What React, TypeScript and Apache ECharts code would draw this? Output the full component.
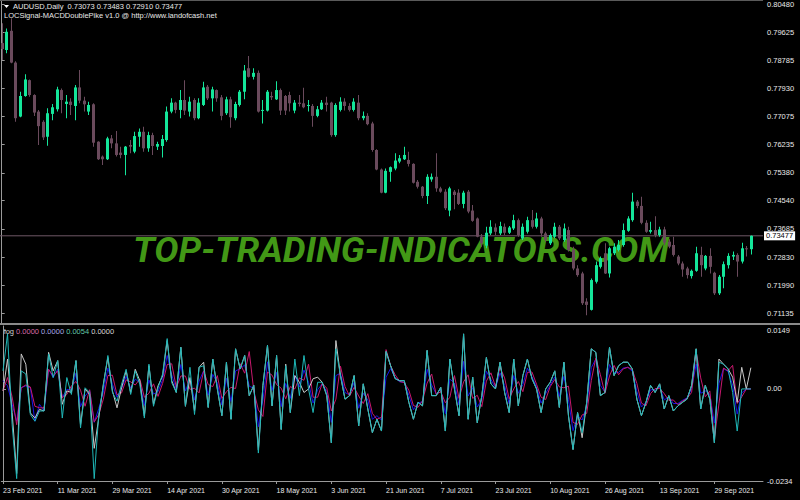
import React, { useEffect, useRef } from "react";
import * as echarts from "echarts";

// ---- data ----
const symbolTitle = "AUDUSD,Daily";
const headerValues = ["0.73073", "0.73483", "0.72910", "0.73477"];
const indicatorTitle = "LOCSignal-MACDDoublePike v1.0 @ http://www.landofcash.net";
const lastPrice = 0.73477;

const dateLabels = ["23 Feb 2021", "11 Mar 2021", "29 Mar 2021", "14 Apr 2021", "30 Apr 2021", "18 May 2021", "3 Jun 2021", "21 Jun 2021", "7 Jul 2021", "23 Jul 2021", "10 Aug 2021", "26 Aug 2021", "13 Sep 2021", "29 Sep 2021"];
const dateLabelBars = [0, 12, 24, 36, 48, 60, 72, 84, 96, 108, 120, 132, 144, 156];

const priceTicks = [0.80480, 0.79625, 0.78785, 0.77930, 0.77075, 0.76235, 0.75380, 0.74540, 0.73685, 0.72830, 0.71990, 0.71135];
const indicatorTicks = [0.0149, 0, -0.0234];

const legendLabel = "log";
const legendValues = ["0.0000", "0.0000", "0.0054", "0.0000"];

// daily candles: [open, close, low, high]
const candles = [
  [0.7930, 0.7912, 0.7879, 0.7990], [0.7909, 0.7964, 0.7899, 0.7974], [0.7967, 0.7871, 0.7869, 0.8005], [0.7871, 0.7703, 0.7692, 0.7875], [0.7708, 0.7770, 0.7706, 0.7783],
  [0.7770, 0.7820, 0.7768, 0.7836], [0.7818, 0.7773, 0.7768, 0.7820], [0.7773, 0.7720, 0.7710, 0.7775], [0.7723, 0.7679, 0.7622, 0.7728], [0.7692, 0.7645, 0.7637, 0.7697],
  [0.7647, 0.7718, 0.7620, 0.7733], [0.7716, 0.7736, 0.7697, 0.7746], [0.7730, 0.7790, 0.7723, 0.7798], [0.7788, 0.7758, 0.7718, 0.7793], [0.7746, 0.7753, 0.7703, 0.7773],
  [0.7753, 0.7743, 0.7713, 0.7763], [0.7740, 0.7796, 0.7697, 0.7803], [0.7796, 0.7756, 0.7748, 0.7849], [0.7756, 0.7745, 0.7723, 0.7768], [0.7723, 0.7743, 0.7713, 0.7753],
  [0.7745, 0.7629, 0.7617, 0.7748], [0.7632, 0.7579, 0.7577, 0.7633], [0.7587, 0.7579, 0.7562, 0.7590], [0.7579, 0.7642, 0.7577, 0.7647], [0.7642, 0.7627, 0.7612, 0.7652],
  [0.7627, 0.7592, 0.7587, 0.7664], [0.7599, 0.7592, 0.7582, 0.7617], [0.7592, 0.7617, 0.7531, 0.7619], [0.7622, 0.7617, 0.7597, 0.7637], [0.7602, 0.7649, 0.7597, 0.7662],
  [0.7647, 0.7662, 0.7617, 0.7672], [0.7662, 0.7612, 0.7602, 0.7677], [0.7612, 0.7652, 0.7602, 0.7662], [0.7652, 0.7619, 0.7592, 0.7659], [0.7617, 0.7625, 0.7607, 0.7632],
  [0.7619, 0.7640, 0.7584, 0.7652], [0.7637, 0.7723, 0.7632, 0.7738], [0.7723, 0.7750, 0.7718, 0.7763], [0.7750, 0.7728, 0.7718, 0.7753], [0.7728, 0.7758, 0.7703, 0.7788],
  [0.7758, 0.7726, 0.7713, 0.7818], [0.7723, 0.7753, 0.7708, 0.7768], [0.7758, 0.7703, 0.7697, 0.7763], [0.7703, 0.7750, 0.7700, 0.7763], [0.7743, 0.7796, 0.7740, 0.7813],
  [0.7798, 0.7763, 0.7758, 0.7803], [0.7763, 0.7790, 0.7723, 0.7798], [0.7788, 0.7763, 0.7753, 0.7790], [0.7766, 0.7710, 0.7697, 0.7773], [0.7718, 0.7760, 0.7713, 0.7768],
  [0.7760, 0.7706, 0.7674, 0.7768], [0.7703, 0.7746, 0.7697, 0.7753], [0.7743, 0.7783, 0.7738, 0.7788], [0.7783, 0.7847, 0.7760, 0.7864], [0.7854, 0.7828, 0.7826, 0.7891],
  [0.7828, 0.7840, 0.7820, 0.7854], [0.7840, 0.7723, 0.7720, 0.7847], [0.7725, 0.7728, 0.7687, 0.7758], [0.7726, 0.7783, 0.7723, 0.7788], [0.7770, 0.7766, 0.7758, 0.7783],
  [0.7760, 0.7788, 0.7758, 0.7815], [0.7788, 0.7726, 0.7713, 0.7793], [0.7770, 0.7726, 0.7713, 0.7773], [0.7773, 0.7748, 0.7723, 0.7783], [0.7726, 0.7750, 0.7718, 0.7758],
  [0.7750, 0.7746, 0.7738, 0.7773], [0.7748, 0.7736, 0.7733, 0.7795], [0.7740, 0.7743, 0.7723, 0.7758], [0.7740, 0.7710, 0.7677, 0.7746], [0.7710, 0.7730, 0.7706, 0.7740],
  [0.7730, 0.7750, 0.7728, 0.7758], [0.7750, 0.7743, 0.7723, 0.7768], [0.7750, 0.7652, 0.7647, 0.7753], [0.7652, 0.7743, 0.7647, 0.7748], [0.7728, 0.7753, 0.7723, 0.7766],
  [0.7753, 0.7740, 0.7726, 0.7763], [0.7740, 0.7728, 0.7723, 0.7748], [0.7728, 0.7753, 0.7723, 0.7763], [0.7750, 0.7703, 0.7697, 0.7773], [0.7703, 0.7710, 0.7697, 0.7723],
  [0.7710, 0.7685, 0.7682, 0.7718], [0.7687, 0.7607, 0.7602, 0.7692], [0.7607, 0.7548, 0.7546, 0.7609], [0.7548, 0.7478, 0.7476, 0.7551], [0.7478, 0.7544, 0.7476, 0.7551],
  [0.7541, 0.7555, 0.7511, 0.7557], [0.7551, 0.7575, 0.7546, 0.7597], [0.7572, 0.7582, 0.7567, 0.7592], [0.7579, 0.7592, 0.7577, 0.7617], [0.7577, 0.7565, 0.7557, 0.7602],
  [0.7565, 0.7508, 0.7506, 0.7567], [0.7511, 0.7496, 0.7491, 0.7516], [0.7496, 0.7468, 0.7461, 0.7498], [0.7468, 0.7526, 0.7444, 0.7534], [0.7518, 0.7526, 0.7511, 0.7536],
  [0.7526, 0.7491, 0.7481, 0.7597], [0.7491, 0.7481, 0.7478, 0.7496], [0.7481, 0.7431, 0.7426, 0.7488], [0.7424, 0.7491, 0.7407, 0.7496], [0.7481, 0.7471, 0.7428, 0.7486],
  [0.7478, 0.7444, 0.7441, 0.7488], [0.7444, 0.7478, 0.7431, 0.7484], [0.7481, 0.7421, 0.7416, 0.7486], [0.7424, 0.7393, 0.7390, 0.7441], [0.7400, 0.7345, 0.7343, 0.7403],
  [0.7345, 0.7325, 0.7315, 0.7353], [0.7318, 0.7357, 0.7310, 0.7375], [0.7355, 0.7375, 0.7350, 0.7395], [0.7373, 0.7360, 0.7350, 0.7385], [0.7355, 0.7377, 0.7350, 0.7390],
  [0.7375, 0.7357, 0.7350, 0.7385], [0.7357, 0.7373, 0.7353, 0.7377], [0.7370, 0.7395, 0.7365, 0.7411], [0.7395, 0.7350, 0.7345, 0.7400], [0.7340, 0.7375, 0.7335, 0.7385],
  [0.7360, 0.7395, 0.7355, 0.7405], [0.7395, 0.7375, 0.7370, 0.7426], [0.7375, 0.7400, 0.7370, 0.7417], [0.7400, 0.7355, 0.7345, 0.7405], [0.7355, 0.7335, 0.7330, 0.7360],
  [0.7325, 0.7350, 0.7320, 0.7355], [0.7345, 0.7375, 0.7340, 0.7387], [0.7375, 0.7340, 0.7335, 0.7380], [0.7335, 0.7370, 0.7330, 0.7385], [0.7365, 0.7305, 0.7300, 0.7375],
  [0.7305, 0.7249, 0.7244, 0.7315], [0.7249, 0.7229, 0.7224, 0.7259], [0.7234, 0.7144, 0.7139, 0.7239], [0.7149, 0.7139, 0.7108, 0.7159], [0.7124, 0.7214, 0.7122, 0.7219],
  [0.7209, 0.7259, 0.7204, 0.7270], [0.7254, 0.7280, 0.7249, 0.7285], [0.7295, 0.7234, 0.7232, 0.7325], [0.7234, 0.7310, 0.7222, 0.7315], [0.7295, 0.7315, 0.7290, 0.7325],
  [0.7305, 0.7320, 0.7300, 0.7335], [0.7320, 0.7365, 0.7315, 0.7385], [0.7363, 0.7400, 0.7360, 0.7407], [0.7395, 0.7451, 0.7390, 0.7478], [0.7451, 0.7438, 0.7431, 0.7456],
  [0.7438, 0.7387, 0.7383, 0.7466], [0.7387, 0.7360, 0.7357, 0.7395], [0.7360, 0.7365, 0.7355, 0.7390], [0.7365, 0.7350, 0.7343, 0.7407], [0.7350, 0.7367, 0.7345, 0.7375],
  [0.7367, 0.7327, 0.7320, 0.7375], [0.7330, 0.7315, 0.7310, 0.7337], [0.7320, 0.7290, 0.7285, 0.7345], [0.7285, 0.7264, 0.7259, 0.7290], [0.7264, 0.7246, 0.7224, 0.7270],
  [0.7249, 0.7229, 0.7219, 0.7254], [0.7226, 0.7242, 0.7219, 0.7246], [0.7242, 0.7295, 0.7239, 0.7315], [0.7290, 0.7259, 0.7224, 0.7315], [0.7249, 0.7287, 0.7244, 0.7290],
  [0.7287, 0.7254, 0.7234, 0.7310], [0.7236, 0.7174, 0.7169, 0.7239], [0.7174, 0.7224, 0.7169, 0.7229], [0.7224, 0.7262, 0.7189, 0.7270], [0.7259, 0.7287, 0.7249, 0.7295],
  [0.7285, 0.7290, 0.7275, 0.7300], [0.7290, 0.7270, 0.7224, 0.7295], [0.7270, 0.7310, 0.7264, 0.7327], [0.7310, 0.7307, 0.7285, 0.7317], [0.73073, 0.73477, 0.72910, 0.73483],
];

// indicator sub-window lines
const cyanLine = [
  0.0046, 0.0140, -0.0090, -0.0228, 0.0046, 0.0038, -0.0065, -0.0082, -0.0056, -0.0056,
  0.0089, 0.0029, 0.0072, -0.0074, 0.0029, -0.0014, 0.0072, -0.0099, 0.0003, -0.0009,
  -0.0228, -0.0065, 0.0008, 0.0085, -0.0009, -0.0031, 0.0012, 0.0050, -0.0014, 0.0046,
  0.0012, -0.0074, 0.0063, -0.0044, 0.0003, 0.0038, 0.0128, 0.0016, -0.0009, 0.0106,
  -0.0044, 0.0055, -0.0065, 0.0055, 0.0059, -0.0047, 0.0076, 0.0000, -0.0068, 0.0068,
  -0.0077, 0.0102, 0.0051, 0.0085, -0.0017, 0.0009, -0.0163, 0.0009, 0.0111, -0.0043,
  0.0085, -0.0103, 0.0059, -0.0060, 0.0076, -0.0017, 0.0085, 0.0000, -0.0060, 0.0017,
  0.0017, -0.0017, -0.0137, 0.0102, 0.0034, -0.0026, -0.0017, 0.0034, -0.0094, 0.0013,
  -0.0051, -0.0111, -0.0077, -0.0107, 0.0095, 0.0059, 0.0026, 0.0021, 0.0021, -0.0034,
  -0.0077, -0.0034, -0.0043, 0.0098, -0.0017, -0.0017, 0.0004, -0.0107, 0.0076, 0.0000,
  -0.0068, 0.0140, -0.0077, 0.0030, -0.0086, -0.0017, 0.0080, 0.0013, 0.0000, 0.0068,
  -0.0009, -0.0060, 0.0076, -0.0043, 0.0034, 0.0076, 0.0026, 0.0000, -0.0060, 0.0000,
  0.0017, 0.0046, -0.0047, 0.0068, -0.0068, -0.0154, -0.0060, -0.0111, -0.0034, 0.0102,
  0.0093, -0.0017, -0.0009, 0.0106, 0.0034, 0.0059, 0.0068, 0.0068, 0.0051, -0.0026,
  -0.0068, -0.0034, 0.0009, -0.0009, 0.0013, -0.0051, -0.0017, -0.0056, -0.0043, -0.0034,
  -0.0026, 0.0009, 0.0102, -0.0051, 0.0009, -0.0026, -0.0137, 0.0068, 0.0063, 0.0051,
  -0.0009, -0.0107, 0.0000, 0.0000, 0.0000,
];
const whiteLine = [
  -0.0005, 0.0076, -0.0060, -0.0215, 0.0089, 0.0063, -0.0061, -0.0074, -0.0052, -0.0056,
  0.0093, 0.0046, 0.0072, -0.0039, -0.0005, -0.0009, 0.0072, -0.0091, 0.0000, -0.0014,
  -0.0151, -0.0074, 0.0012, 0.0080, -0.0005, -0.0048, 0.0003, 0.0046, -0.0009, 0.0050,
  0.0021, -0.0069, 0.0059, -0.0039, 0.0008, 0.0033, 0.0123, 0.0021, -0.0009, 0.0106,
  -0.0044, 0.0029, -0.0056, 0.0055, 0.0068, -0.0047, 0.0076, 0.0000, -0.0068, 0.0068,
  -0.0077, 0.0102, 0.0051, 0.0085, -0.0017, 0.0009, -0.0155, 0.0009, 0.0111, -0.0043,
  0.0085, -0.0103, 0.0063, -0.0060, 0.0034, 0.0017, -0.0009, 0.0000, 0.0026, 0.0030,
  0.0017, -0.0017, -0.0137, 0.0123, 0.0034, -0.0026, -0.0017, 0.0034, -0.0094, 0.0013,
  -0.0051, -0.0111, -0.0077, -0.0107, 0.0095, 0.0059, 0.0026, 0.0021, 0.0021, -0.0034,
  -0.0077, -0.0034, -0.0043, 0.0098, -0.0017, -0.0017, 0.0004, -0.0107, 0.0076, 0.0000,
  -0.0068, 0.0140, -0.0077, 0.0030, -0.0086, -0.0017, 0.0080, 0.0013, 0.0000, 0.0068,
  -0.0009, -0.0060, 0.0076, -0.0043, 0.0034, 0.0076, 0.0026, 0.0000, -0.0060, 0.0000,
  0.0017, 0.0046, -0.0047, 0.0068, -0.0068, -0.0154, -0.0060, -0.0124, -0.0034, 0.0102,
  0.0093, -0.0017, -0.0009, 0.0106, 0.0034, 0.0059, 0.0068, 0.0068, 0.0051, -0.0026,
  -0.0068, -0.0034, 0.0009, -0.0009, 0.0013, -0.0051, -0.0017, -0.0056, -0.0043, -0.0034,
  -0.0026, 0.0009, 0.0102, -0.0051, 0.0009, -0.0026, -0.0137, 0.0076, 0.0063, 0.0051,
  0.0030, -0.0034, 0.0055, 0.0000, 0.0054,
];
const blueLine = [
  0.0021, 0.0008, -0.0039, -0.0082, 0.0003, 0.0008, 0.0003, -0.0082, -0.0039, -0.0056,
  0.0050, 0.0029, 0.0050, -0.0022, -0.0001, -0.0003, 0.0040, -0.0045, -0.0018, -0.0004,
  -0.0085, -0.0050, -0.0008, 0.0053, 0.0012, -0.0021, 0.0001, 0.0032, 0.0002, 0.0025,
  0.0016, -0.0042, 0.0023, -0.0013, -0.0007, 0.0024, 0.0085, 0.0036, -0.0002, 0.0062,
  -0.0005, 0.0024, -0.0028, 0.0020, 0.0046, -0.0016, 0.0037, 0.0015, -0.0041, 0.0027,
  -0.0032, 0.0046, 0.0051, 0.0061, 0.0007, 0.0002, -0.0096, -0.0028, 0.0069, -0.0004,
  0.0042, -0.0045, 0.0014, -0.0024, 0.0034, 0.0005, 0.0048, 0.0017, -0.0036, -0.0002,
  0.0013, -0.0007, -0.0085, 0.0034, 0.0040, -0.0009, -0.0015, 0.0017, -0.0049, -0.0011,
  -0.0028, -0.0077, -0.0068, -0.0079, 0.0030, 0.0052, 0.0028, 0.0018, 0.0017, -0.0016,
  -0.0053, -0.0035, -0.0033, 0.0050, 0.0010, -0.0013, -0.0001, -0.0063, 0.0025, 0.0015,
  -0.0041, 0.0070, -0.0018, 0.0003, -0.0046, -0.0027, 0.0045, 0.0024, 0.0003, 0.0041,
  0.0009, -0.0038, 0.0034, -0.0011, 0.0011, 0.0053, 0.0031, 0.0005, -0.0036, -0.0012,
  0.0010, 0.0031, -0.0019, 0.0032, -0.0027, -0.0106, -0.0067, -0.0079, -0.0042, 0.0054,
  0.0076, 0.0009, -0.0008, 0.0062, 0.0041, 0.0042, 0.0053, 0.0055, 0.0045, -0.0006,
  -0.0046, -0.0034, -0.0002, -0.0003, 0.0006, -0.0028, -0.0020, -0.0037, -0.0037, -0.0029,
  -0.0023, 0.0000, 0.0063, -0.0011, -0.0005, -0.0014, -0.0087, 0.0014, 0.0052, 0.0044,
  0.0010, -0.0064, -0.0010, 0.0000, 0.0000,
];
const magentaLine = [
  -0.0005, 0.0029, -0.0020, -0.0091, 0.0003, 0.0010, 0.0005, -0.0044, -0.0048, -0.0048,
  0.0050, 0.0033, 0.0046, -0.0022, -0.0014, 0.0008, 0.0019, -0.0003, -0.0044, -0.0002,
  -0.0084, -0.0065, -0.0026, 0.0034, 0.0035, -0.0015, -0.0010, 0.0023, 0.0018, 0.0010,
  0.0025, -0.0021, -0.0011, 0.0013, -0.0019, 0.0014, 0.0062, 0.0064, 0.0004, 0.0033,
  0.0033, -0.0001, 0.0002, -0.0010, 0.0046, 0.0011, 0.0006, 0.0034, -0.0024, -0.0007,
  0.0004, 0.0001, 0.0064, 0.0040, 0.0095, -0.0005, -0.0053, -0.0070, 0.0043, 0.0035,
  0.0011, 0.0002, -0.0025, 0.0006, 0.0000, 0.0028, 0.0022, 0.0063, -0.0021, -0.0021,
  0.0014, 0.0002, -0.0056, -0.0026, 0.0058, 0.0006, -0.0018, 0.0004, -0.0018, -0.0037,
  -0.0012, -0.0062, -0.0077, -0.0072, 0.0100, 0.0059, 0.0036, 0.0019, 0.0016, -0.0003,
  -0.0042, -0.0047, -0.0030, 0.0015, 0.0038, -0.0014, -0.0007, -0.0035, -0.0021, 0.0034,
  -0.0024, 0.0018, 0.0036, -0.0024, -0.0016, -0.0045, 0.0020, 0.0041, 0.0006, 0.0055,
  0.0028, -0.0025, 0.0000, 0.0019, -0.0007, 0.0042, 0.0043, 0.0012, -0.0021, -0.0027,
  0.0006, 0.0024, 0.0005, 0.0003, 0.0007, -0.0085, -0.0090, -0.0066, -0.0062, 0.0021,
  0.0079, 0.0036, -0.0011, 0.0033, 0.0060, 0.0036, 0.0051, 0.0055, 0.0049, 0.0014,
  -0.0036, -0.0043, -0.0012, 0.0001, 0.0001, -0.0012, -0.0029, -0.0028, -0.0040, -0.0031,
  -0.0024, -0.0009, 0.0095, 0.0028, -0.0020, -0.0005, -0.0125, -0.0038, 0.0053, 0.0046,
  0.0060, -0.0037, -0.0020, 0.0000, 0.0000,
];

const GREEN = "#14e69a";
const PURPLE = "#6a4a5c";
const TEXT = "#e8e8e8";
const FRAME = "#9a9a9a";
const FONT = "Liberation Sans";

export default function App() {
  const ref = useRef<HTMLDivElement>(null);

  useEffect(() => {
    if (!ref.current) return;
    const chart = echarts.init(ref.current, null, { renderer: "svg" });

    const X_MIN = -0.372;
    const X_MAX = 166.66;

    const candleData = candles.map((d, i) => [i, d[0], d[1], d[2], d[3]]);
    const toXY = (arr: number[]) => arr.map((v, i) => [i, v]);

    const lineSeries = (name: string, data: number[], color: string) => ({
      name,
      type: "line",
      xAxisIndex: 1,
      yAxisIndex: 1,
      data: toXY(data),
      symbol: "none",
      showSymbol: false,
      lineStyle: { color, width: 1 },
      silent: true,
    });

    const option: any = {
      animation: false,
      backgroundColor: "#000000",
      grid: [
        { left: 0, top: 0, width: 763, height: 323 },
        { left: 0, top: 326, width: 763, height: 155 },
      ],
      xAxis: [
        {
          type: "value", gridIndex: 0, min: X_MIN, max: X_MAX,
          axisLine: { show: false }, axisTick: { show: false }, axisLabel: { show: false }, splitLine: { show: false },
        },
        {
          type: "value", gridIndex: 1, min: X_MIN, max: X_MAX,
          axisLine: { show: true, onZero: false, lineStyle: { color: FRAME, width: 1 } },
          axisTick: { show: true, customValues: dateLabelBars, length: 3, lineStyle: { color: FRAME } },
          axisLabel: {
            show: true,
            customValues: dateLabelBars,
            formatter: (v: number) => {
              const k = dateLabelBars.indexOf(Math.round(v));
              return k >= 0 ? dateLabels[k] : "";
            },
            align: "left",
            color: TEXT,
            fontSize: 7,
            fontFamily: FONT,
            margin: 6,
          },
          splitLine: { show: false },
        },
      ],
      yAxis: [
        {
          type: "value", gridIndex: 0, position: "right", min: 0.70843, max: 0.80601, scale: true,
          axisLine: { show: true, lineStyle: { color: FRAME } },
          axisTick: { show: true, customValues: priceTicks, length: 3, lineStyle: { color: FRAME } },
          axisLabel: {
            show: true, customValues: priceTicks, formatter: (v: number) => v.toFixed(5),
            color: TEXT, fontSize: 7.5, fontFamily: FONT, margin: 4,
          },
          splitLine: { show: false },
        },
        {
          type: "value", gridIndex: 1, position: "right", min: -0.0234, max: 0.016, scale: true,
          axisLine: { show: true, lineStyle: { color: FRAME } },
          axisTick: { show: true, customValues: indicatorTicks, length: 3, lineStyle: { color: FRAME } },
          axisLabel: {
            show: true, customValues: indicatorTicks,
            formatter: (v: number) => (Math.abs(v) < 1e-9 ? "0.00" : v.toFixed(4)),
            color: TEXT, fontSize: 7.5, fontFamily: FONT, margin: 4,
          },
          splitLine: { show: false },
        },
      ],
      series: [
        {
          name: "lastPrice",
          type: "line",
          xAxisIndex: 0,
          yAxisIndex: 0,
          data: [[X_MIN, lastPrice], [X_MAX, lastPrice]],
          symbol: "none",
          showSymbol: false,
          silent: true,
          z: 1,
          clip: false,
          lineStyle: { color: "#6e5866", width: 1 },
          endLabel: {
            show: true,
            distance: 1,
            formatter: () => lastPrice.toFixed(5),
            backgroundColor: "#ffffff",
            color: "#000000",
            fontSize: 7.5,
            fontFamily: FONT,
            lineHeight: 9,
            padding: [0, 2, 0, 2],
          },
        },
        {
          name: "candles",
          type: "custom",
          xAxisIndex: 0,
          yAxisIndex: 0,
          data: candleData,
          encode: { x: 0, y: [1, 2, 3, 4] },
          z: 3,
          renderItem: (params: any, api: any) => {
            const i = api.value(0);
            const o = api.value(1);
            const c = api.value(2);
            const l = api.value(3);
            const h = api.value(4);
            const pO = api.coord([i, o]);
            const pC = api.coord([i, c]);
            const pL = api.coord([i, l]);
            const pH = api.coord([i, h]);
            const x = Math.round(pO[0]);
            const color = c >= o ? GREEN : PURPLE;
            const top = Math.min(pO[1], pC[1]);
            const bh = Math.max(1, Math.abs(pO[1] - pC[1]));
            return {
              type: "group",
              children: [
                { type: "rect", shape: { x: x, y: pH[1], width: 1, height: Math.max(1, pL[1] - pH[1]) }, style: { fill: color } },
                { type: "rect", shape: { x: x - 1, y: top, width: 3, height: bh }, style: { fill: color } },
              ],
            };
          },
        },
        lineSeries("blue", blueLine, "#1414e6"),
        lineSeries("magenta", magentaLine, "#c8186e"),
        lineSeries("white", whiteLine, "#c8c8c8"),
        lineSeries("cyan", cyanLine, "#1fb8b8"),
      ],
      graphic: [
        {
          type: "text", x: 133, y: 250, z: 0, silent: true, scaleX: 1.035,
          style: {
            text: "TOP-TRADING-INDICATORS.COM",
            font: 'italic bold 35px Roboto',
            fill: "#47a318",
            verticalAlign: "middle",
            opacity: 0.95,
          },
        },
        { type: "line", z: 10, silent: true, shape: { x1: 0, y1: 0.5, x2: 763, y2: 0.5 }, style: { stroke: "#5a5a5a", lineWidth: 1 } },
        { type: "rect", z: 10, silent: true, shape: { x: 0, y: 323, width: 800, height: 2 }, style: { fill: "#8a8a8a" } },
        { type: "polygon", z: 10, silent: true, shape: { points: [[4, 5], [9, 5], [6.5, 8]] }, style: { fill: "#ffffff" } },
        {
          type: "text", x: 13, y: 6.5, z: 10, silent: true,
          style: {
            text: symbolTitle + "  " + headerValues.join(" "),
            font: `7.5px "${FONT}"`, fill: TEXT, verticalAlign: "middle",
          },
        },
        {
          type: "text", x: 4, y: 15.5, z: 10, silent: true,
          style: { text: indicatorTitle, font: `7.5px "${FONT}"`, fill: TEXT, verticalAlign: "middle" },
        },
        {
          type: "text", x: 4, y: 331, z: 10, silent: true,
          style: {
            text: `{a|${legendLabel}} {m|${legendValues[0]}} {b|${legendValues[1]}} {w|${legendValues[2]}} {c|${legendValues[3]}}`,
            font: `7.5px "${FONT}"`,
            verticalAlign: "middle",
            rich: {
              a: { fill: "#d0d0d0", fontSize: 7.5, fontFamily: FONT },
              m: { fill: "#d86aa8", fontSize: 7.5, fontFamily: FONT },
              b: { fill: "#a8a8e8", fontSize: 7.5, fontFamily: FONT },
              w: { fill: "#60c8a8", fontSize: 7.5, fontFamily: FONT },
              c: { fill: "#d8d8d8", fontSize: 7.5, fontFamily: FONT },
            },
          },
        },
      ],
    };

    chart.setOption(option);
    return () => chart.dispose();
  }, []);

  return (
    <div
      ref={ref}
      style={{ position: "fixed", left: 0, top: 0, width: 800, height: 500, background: "#000" }}
    />
  );
}
